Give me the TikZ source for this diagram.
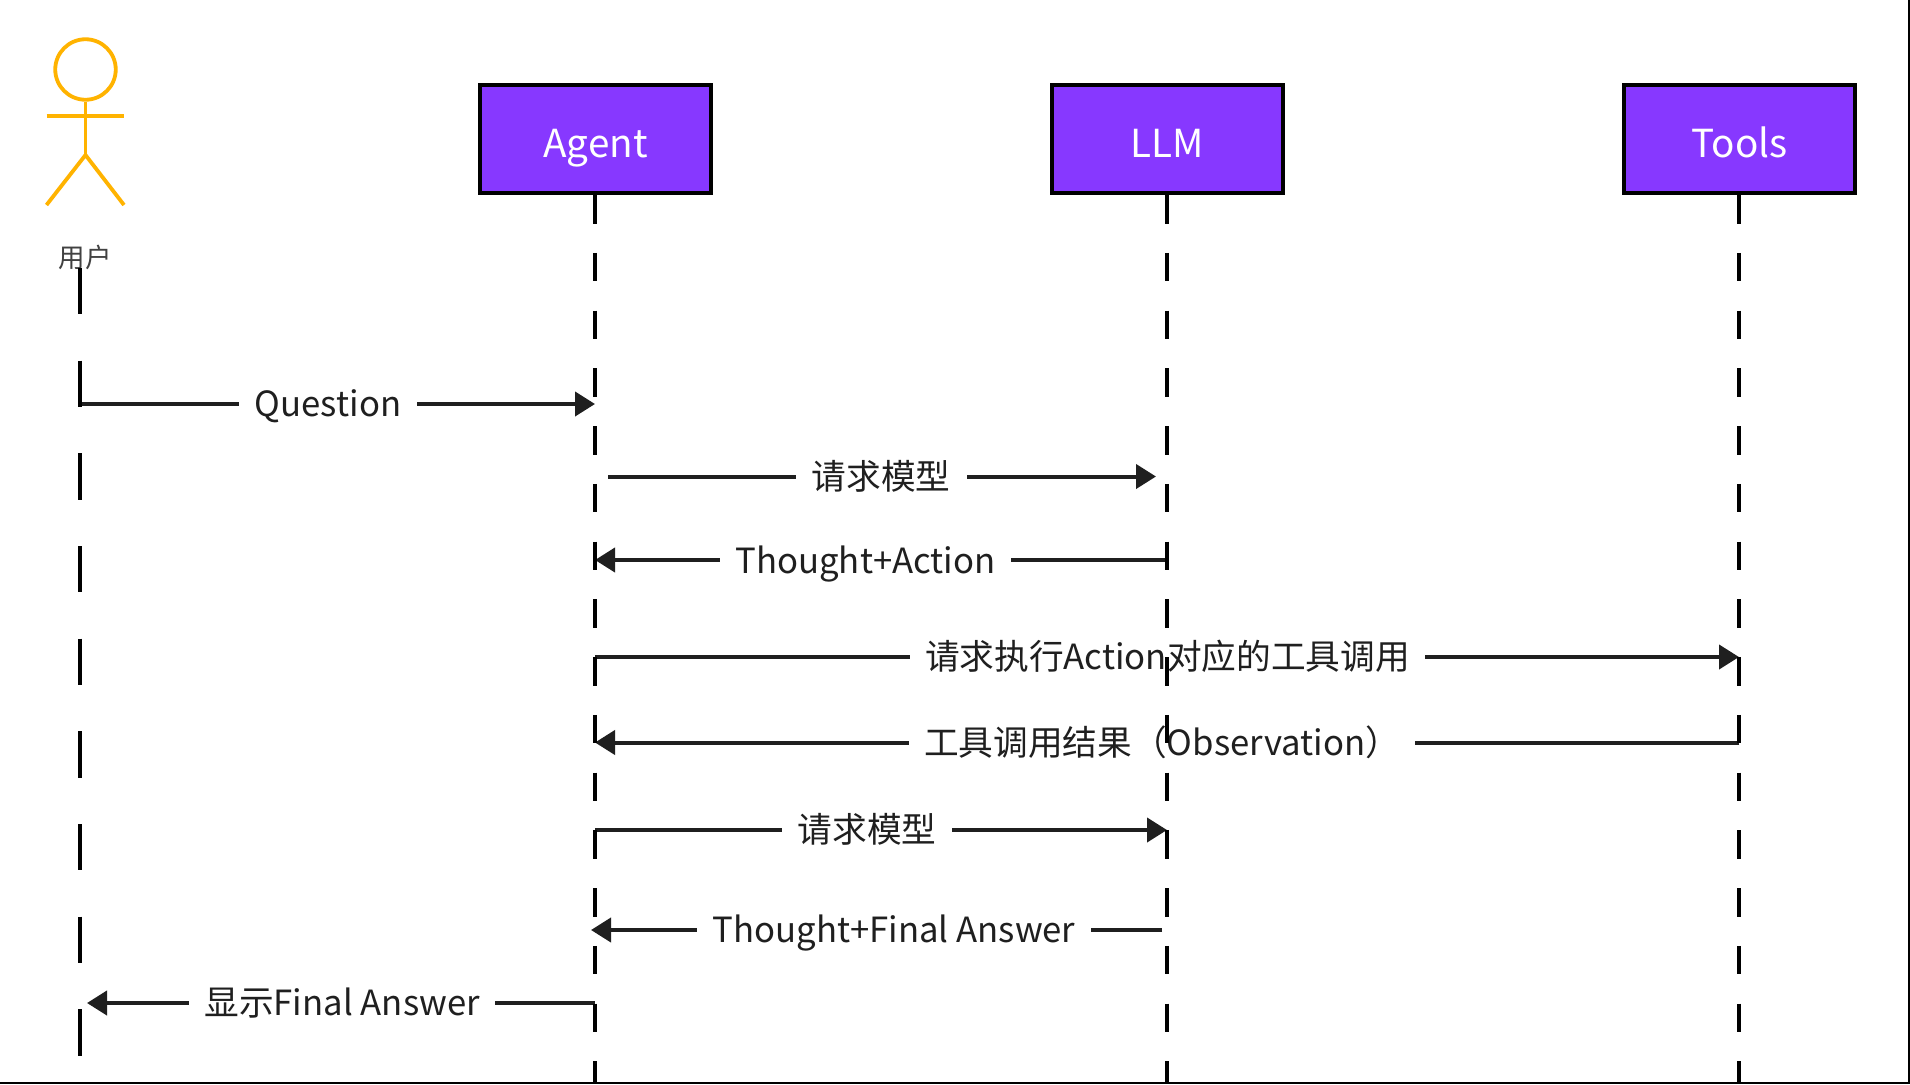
\documentclass[tikz,border=0pt]{standalone}
\usepackage{fontspec}
\setmainfont{Noto Sans CJK SC}
\usetikzlibrary{arrows.meta}
\definecolor{boxfill}{HTML}{8738FF}
\definecolor{actorc}{HTML}{FFB300}
\definecolor{ink}{HTML}{1F1F1F}
\tikzset{
  x=1pt,y=-1pt,
  lane/.style={draw=black,line width=4pt,fill=boxfill,text=white,minimum width=231pt,minimum height=108pt,inner sep=0pt,font=\fontsize{38.6}{39}\selectfont,text height=36pt,text depth=0pt},
  life/.style={draw=black,line width=4pt},
  userlife/.style={life,dash pattern=on 46.3pt off 46.37pt},
  boxlife/.style={life,dash pattern=on 28.5pt off 29.25pt},
  msg/.style={draw=ink,line width=4pt,-{Triangle[length=20pt,width=24pt]}},
  lbl/.style={fill=white,text=ink,inner sep=0pt,font=\fontsize{34.7}{35}\selectfont,text height=30pt,text depth=8pt},
  figure/.style={draw=actorc,line width=3.8pt},
}
\begin{document}
\begin{tikzpicture}
\useasboundingbox (0,0) rectangle (1910,1084);
\fill[white] (0,0) rectangle (1910,1084);
\draw[black,line width=2pt] (1909,0) -- (1909,1084);
\draw[black,line width=2pt] (0,1083) -- (1910,1083);
% actor
\node[figure,circle,inner sep=0pt,minimum size=60.5pt] (head) at (85.5,69.5) {};
\coordinate (hip) at (85.5,155);
\coordinate (armL) at (46.5,116);
\coordinate (armR) at (124,116);
\coordinate (footL) at (46.5,205);
\coordinate (footR) at (124,205);
\draw[figure] (head.south) -- (hip);
\draw[figure] (armL) -- (armR);
\draw[figure] (footL) -- (hip) -- (footR);
\node[text=ink!85,inner sep=0pt,font=\fontsize{26.5}{27}\selectfont] (user) at (85,257) {用户};
% boxes
\node[lane] (agent) at (595.5,139) {Agent};
\node[lane] (llm) at (1167.5,139) {LLM};
\node[lane] (tools) at (1739.5,139) {Tools};
% lifeline ends
\coordinate (userTop) at (79.5,268);
\coordinate (userEnd) at (79.5,1056);
\coordinate (agentTop) at (595,195);
\coordinate (llmTop) at (1167,195);
\coordinate (toolsTop) at (1739,195);
\coordinate (agentEnd) at (595,1083);
\coordinate (llmEnd) at (1167,1083);
\coordinate (toolsEnd) at (1739,1083);
% message ends
\coordinate (a1) at (79,404);   \coordinate (b1) at (595,404);
\coordinate (a2) at (608,476.5);  \coordinate (b2) at (1156,476.5);
\coordinate (a3) at (1167,560); \coordinate (b3) at (595,560);
\coordinate (a4) at (595,657);  \coordinate (b4) at (1739,657);
\coordinate (a5) at (1739,742.5); \coordinate (b5) at (595,742.5);
\coordinate (a6) at (595,830);  \coordinate (b6) at (1167,830);
\coordinate (a7) at (1162,930); \coordinate (b7) at (591,930);
\coordinate (a8) at (595,1003); \coordinate (b8) at (87,1003);
\draw[msg] (a1) -- (b1);
\draw[msg] (a2) -- (b2);
\draw[msg] (a3) -- (b3);
\draw[msg] (a4) -- (b4);
\draw[msg] (a5) -- (b5);
\draw[msg] (a6) -- (b6);
\draw[msg] (a7) -- (b7);
\draw[msg] (a8) -- (b8);
% labels
\node[lbl,minimum width=178pt] (l1) at (328,405.5) {Question};
\node[lbl,minimum width=171pt] (l2) at (881,478) {请求模型};
\node[lbl,minimum width=291pt] (l3) at (865.5,562) {Thought+Action};
\node[lbl,minimum width=515pt] (l4) at (1167.5,658.5) {请求执行Action对应的工具调用};
\node[lbl,minimum width=506pt] (l5) at (1162,744) {工具调用结果（Observation）};
\node[lbl,minimum width=170pt] (l6) at (867,831.5) {请求模型};
\node[lbl,minimum width=394pt] (l7) at (894,931.5) {Thought+Final Answer};
\node[lbl,minimum width=306pt] (l8) at (342,1004.5) {显示Final Answer};
% lifelines, over the labels
\draw[userlife] (userTop) -- (userEnd);
\draw[boxlife] (agentTop) -- (agentEnd);
\draw[boxlife] (llmTop) -- (llmEnd);
\draw[boxlife] (toolsTop) -- (toolsEnd);
\end{tikzpicture}
\end{document}
